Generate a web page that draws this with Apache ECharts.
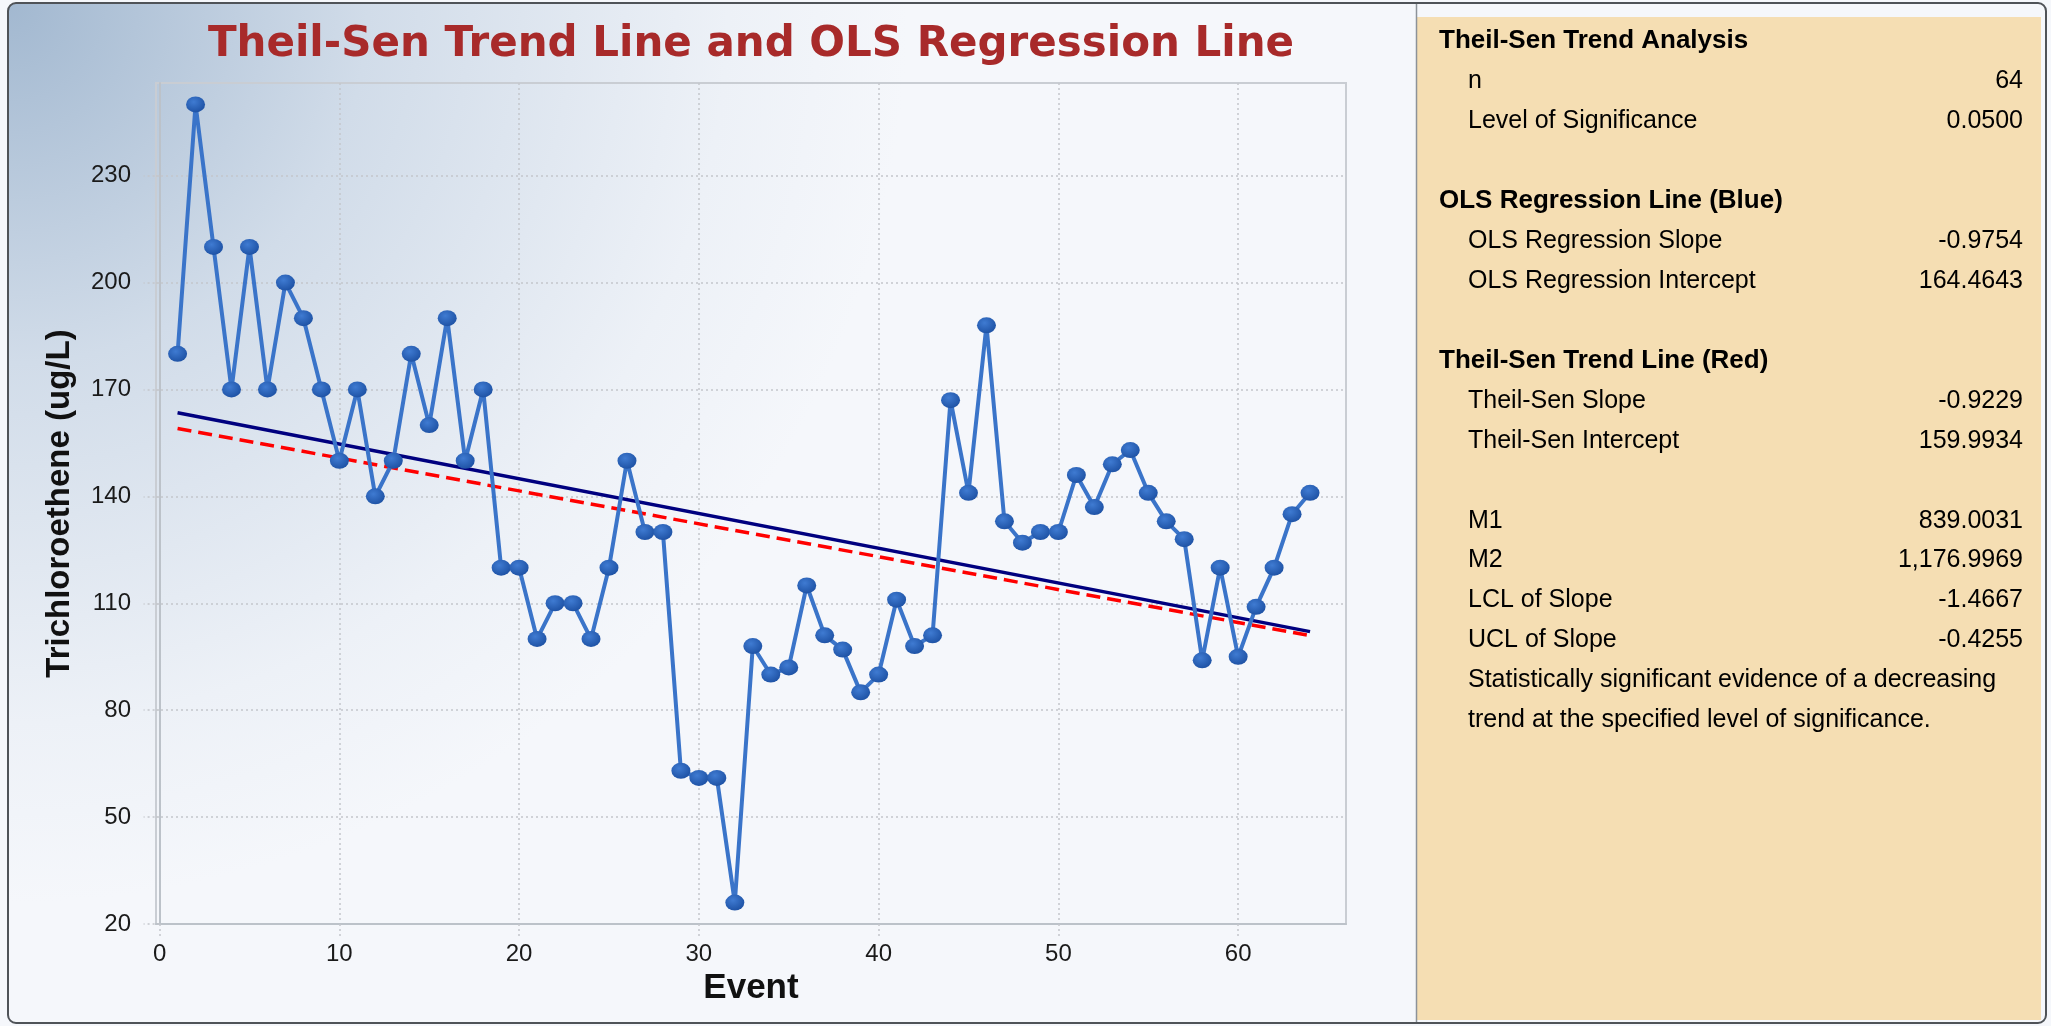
<!DOCTYPE html>
<html>
<head>
<meta charset="utf-8">
<title>Theil-Sen Trend Line and OLS Regression Line</title>
<script src="https://cdn.jsdelivr.net/npm/echarts@6/dist/echarts.min.js"></script>
<style>
  html, body { margin: 0; padding: 0; background: #f5f7fb; overflow: hidden; }
  #chart { width: 2051px; height: 1026px; }
</style>
</head>
<body>
<div id="chart"></div>
<script>
// values
const events = [1, 2, 3, 4, 5, 6, 7, 8, 9, 10, 11, 12, 13, 14, 15, 16, 17, 18, 19, 20,
  21, 22, 23, 24, 25, 26, 27, 28, 29, 30, 31, 32, 33, 34, 35, 36, 37, 38, 39, 40,
  41, 42, 43, 44, 45, 46, 47, 48, 49, 50, 51, 52, 53, 54, 55, 56, 57, 58, 59, 60,
  61, 62, 63, 64];
const tce = [180, 250, 210, 170, 210, 170, 200, 190, 170, 150,
  170, 140, 150, 180, 160, 190, 150, 170, 120, 120,
  100, 110, 110, 100, 120, 150, 130, 130, 63, 61,
  61, 26, 98, 90, 92, 115, 101, 97, 85, 90,
  111, 98, 101, 167, 141, 188, 133, 127, 130, 130,
  146, 137, 149, 153, 141, 133, 128, 94, 120, 95,
  109, 120, 135, 141];
// end points of the two fitted lines (event 1 and event 64)
const olsLine = [[1, 163.49], [64, 102.04]];
const theilSenLine = [[1, 159.07], [64, 100.93]];
const xTicks = [0, 10, 20, 30, 40, 50, 60];
const yTicks = [20, 50, 80, 110, 140, 170, 200, 230];

// right hand panel: [label, value, kind]
const statRows = [
  ["Theil-Sen Trend Analysis", "", "head"],
  ["n", "64", ""],
  ["Level of Significance", "0.0500", ""],
  ["", "", ""],
  ["OLS Regression Line (Blue)", "", "head"],
  ["OLS Regression Slope", "-0.9754", ""],
  ["OLS Regression Intercept", "164.4643", ""],
  ["", "", ""],
  ["Theil-Sen Trend Line (Red)", "", "head"],
  ["Theil-Sen Slope", "-0.9229", ""],
  ["Theil-Sen Intercept", "159.9934", ""],
  ["", "", ""],
  ["M1", "839.0031", ""],
  ["M2", "1,176.9969", ""],
  ["LCL of Slope", "-1.4667", ""],
  ["UCL of Slope", "-0.4255", ""],
  ["Statistically significant evidence of a decreasing", "", ""],
  ["trend at the specified level of significance.", "", ""]
];

const chart = echarts.init(document.getElementById("chart"));

const gridLine = { color: "#c3c6cb", width: 1.5, type: [2, 3] };
const labelFont = "Liberation Sans";

let graphics = [
  // chart panel with the blue glow in the corner
  {
    type: "rect", z: -10, silent: true,
    shape: { x: 8, y: 3, width: 1408, height: 1020, r: [8, 0, 0, 8] },
    style: {
      fill: new echarts.graphic.RadialGradient(8, 3, 900, [
        { offset: 0, color: "#a2b8d0" },
        { offset: 0.4, color: "#d1dce9" },
        { offset: 0.8, color: "#edf1f7" },
        { offset: 1, color: "#f5f7fb" }
      ], true)
    }
  },
  {
    type: "rect", z: -10, silent: true,
    shape: { x: 1417, y: 17, width: 624, height: 1003 },
    style: { fill: "#f5deb3" }
  },
  {
    type: "line", z: -5, silent: true,
    shape: { x1: 1416.5, y1: 3, x2: 1416.5, y2: 1023 },
    style: { stroke: "#8c9299", lineWidth: 1.5 }
  },
  {
    type: "rect", z: 50, silent: true,
    shape: { x: 8, y: 3, width: 2038, height: 1020, r: 8 },
    style: { fill: null, stroke: "#4f5358", lineWidth: 2 }
  },
  {
    type: "text", z: 50,
    style: {
      text: "Theil-Sen Trend Line and OLS Regression Line",
      x: 751, y: 45,
      align: "center", verticalAlign: "middle",
      textAlign: "center", textVerticalAlign: "middle",
      font: 'bold 42px "DejaVu Sans"',
      fill: "#a82a2a"
    }
  }
];

statRows.forEach(function (row, k) {
  const baseline = 50 + 39.95 * k;
  if (row[0] !== "") {
    const head = row[2] === "head";
    const size = head ? 26 : 25;
    graphics.push({
      type: "text", z: 50,
      style: {
        text: row[0],
        x: head ? 1439 : 1468,
        y: baseline - 0.35 * size,
        align: "left", verticalAlign: "middle",
        textAlign: "left", textVerticalAlign: "middle",
        font: (head ? "bold " : "") + size + 'px "Liberation Sans"',
        fill: "#000"
      }
    });
  }
  if (row[1] !== "") {
    graphics.push({
      type: "text", z: 50,
      style: {
        text: row[1],
        x: 2023,
        y: baseline - 0.35 * 25,
        align: "right", verticalAlign: "middle",
        textAlign: "right", textVerticalAlign: "middle",
        font: '25px "Liberation Sans"',
        fill: "#000"
      }
    });
  }
});

let points = [];
for (let i = 0; i < events.length; i++) {
  points.push([events[i], tce[i]]);
}

const option = {
  animation: false,
  graphic: graphics,
  grid: {
    left: 156, top: 83, right: 705, bottom: 102,
    show: true,
    borderColor: "#c9cdd3",
    borderWidth: 2,
    backgroundColor: "transparent",
    containLabel: false,
    outerBoundsMode: "none"
  },
  xAxis: {
    type: "value",
    min: -0.2,
    max: 66,
    name: "Event",
    nameLocation: "middle",
    nameGap: 47,
    nameTextStyle: { fontFamily: labelFont, fontWeight: "bold", fontSize: 35, color: "#111" },
    axisLine: { show: true, lineStyle: { color: "#bcc2c9", width: 2 } },
    axisTick: { show: true, length: 13, lineStyle: gridLine, customValues: xTicks },
    axisLabel: { customValues: xTicks, margin: 18, fontSize: 24, fontFamily: labelFont, color: "#1a1a1a" },
    splitLine: { show: true, lineStyle: gridLine }
  },
  yAxis: {
    type: "value",
    min: 20,
    max: 256,
    name: "Trichloroethene (ug/L)",
    nameLocation: "middle",
    nameGap: 80,
    nameTextStyle: { fontFamily: labelFont, fontWeight: "bold", fontSize: 33, color: "#111" },
    axisLine: { show: true, lineStyle: { color: "#bcc2c9", width: 2 } },
    axisTick: { show: true, length: 16, lineStyle: gridLine, customValues: yTicks },
    axisLabel: { customValues: yTicks, margin: 25, fontSize: 24, fontFamily: labelFont, color: "#1a1a1a" },
    splitLine: { show: true, lineStyle: gridLine }
  },
  series: [
    {
      name: "OLS",
      type: "line",
      data: olsLine,
      symbol: "none",
      silent: true,
      z: 2,
      lineStyle: { color: "#00007f", width: 3.5 }
    },
    {
      name: "Theil-Sen",
      type: "line",
      data: theilSenLine,
      symbol: "none",
      silent: true,
      z: 3,
      lineStyle: { color: "#ff0000", width: 3.5, type: [14, 7] }
    },
    {
      name: "Trichloroethene",
      type: "line",
      data: points,
      z: 4,
      symbol: "circle",
      symbolSize: [19, 16],
      showAllSymbol: true,
      lineStyle: { color: "#3a74c9", width: 4 },
      itemStyle: {
        color: new echarts.graphic.RadialGradient(0.4, 0.35, 0.75, [
          { offset: 0, color: "#3f7bd2" },
          { offset: 1, color: "#1a4d9f" }
        ]),
        borderWidth: 0
      }
    }
  ]
};

chart.setOption(option);
</script>
</body>
</html>
